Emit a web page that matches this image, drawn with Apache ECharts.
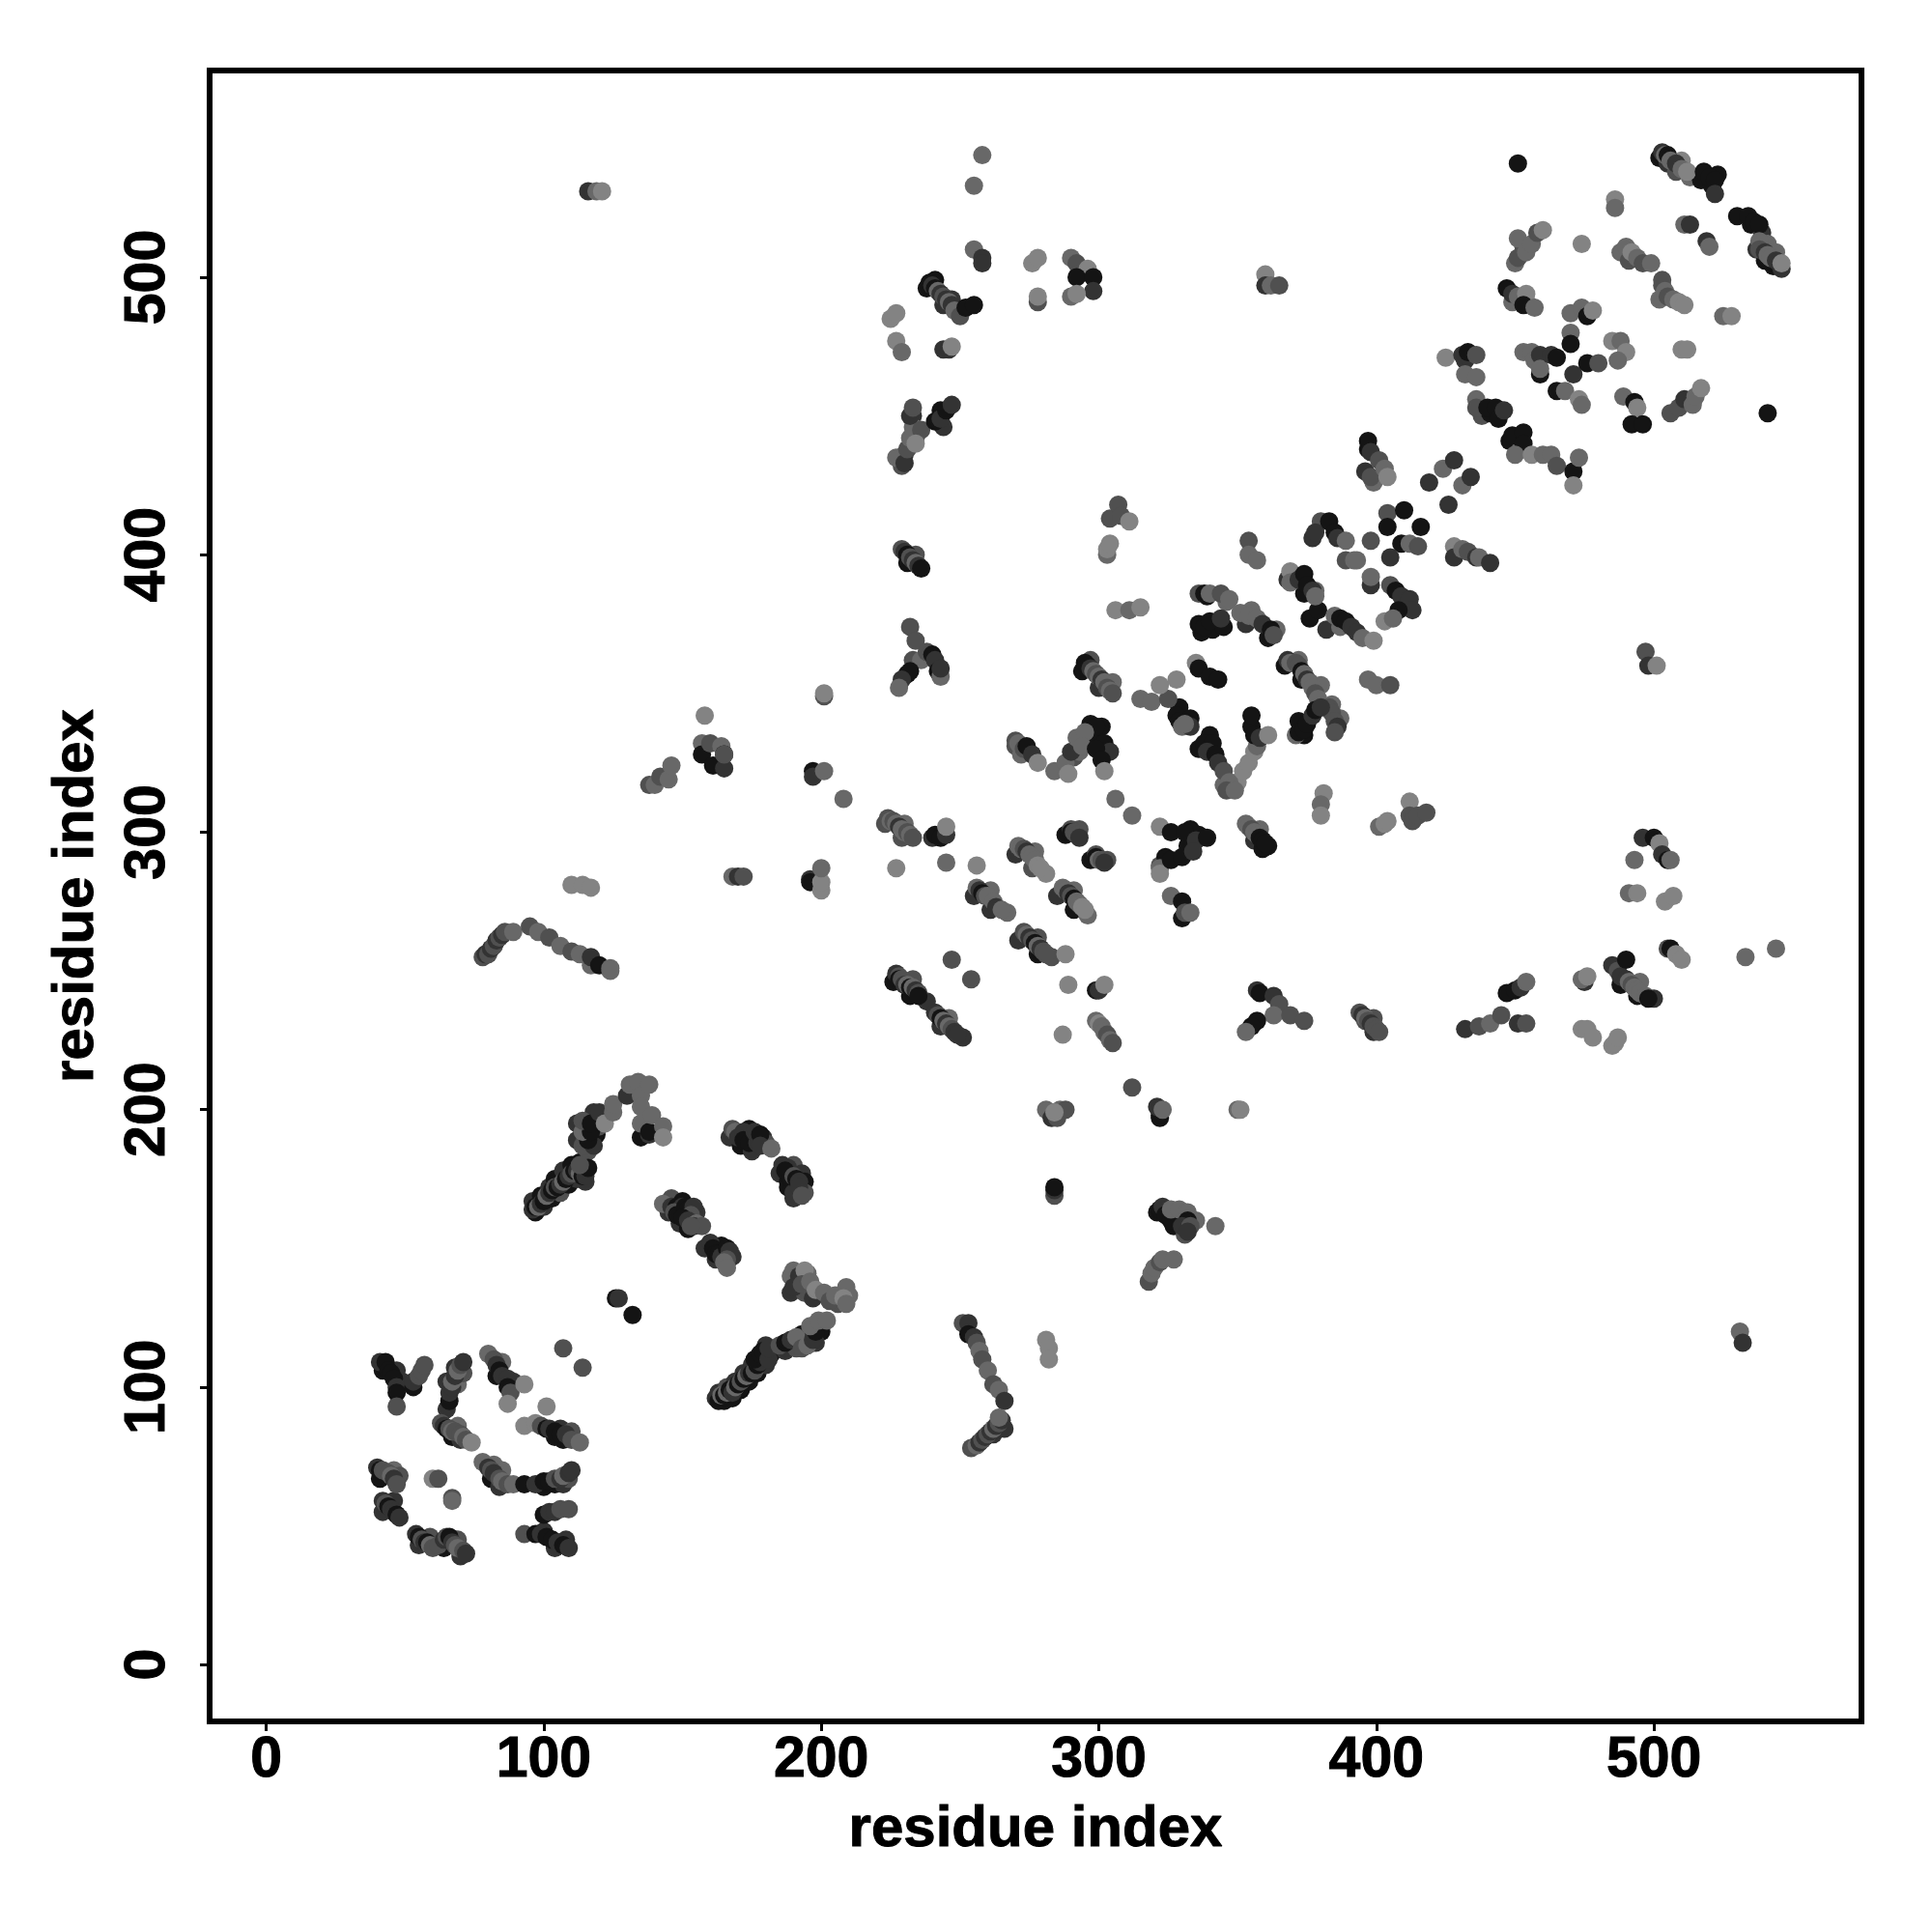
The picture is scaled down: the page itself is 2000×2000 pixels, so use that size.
<!DOCTYPE html>
<html><head><meta charset="utf-8">
<script src="https://cdn.jsdelivr.net/npm/echarts@6/dist/echarts.min.js"></script>
<style>html,body{margin:0;background:#fff}#c{width:2000px;height:2000px}</style></head>
<body><div id="c"></div>
<script>
const tickLabels=[0,100,200,300,400,500];
const shades=['#141414','#333333','#505050','#686868','#838383'];
// each contact: [residue i, residue j, shade index]
const denseUnderlay=[[163,98,1],[165,95,0],[166,100,2],[168,96,0],[169,102,1],[171,99,0],[172,105,1],[174,102,0],[175,108,1],[177,105,0],[178,112,2],[180,108,1],[180,115,1],[182,112,0],
[97,163,0],[96,167,1],[100,165,1],[99,169,0],[103,168,0],[102,172,1],[106,170,2],[104,175,0],[109,173,0],[107,178,1],[112,175,1],[110,180,0],[115,174,1],[113,181,0],
[112,189,1],[119,191,0],[116,185,2],[112,195,1],[120,194,2],[118,199,1],
[146,168,2],[150,167,0],[155,163,1],[145,163,1],[149,159,1],[152,157,0],[158,150,1],[162,146,1],[164,151,0],[168,147,1],
[167,190,1],[171,187,0],[175,185,1],[174,193,0],[179,190,1],[180,188,2],[185,177,1],[188,174,0],[190,168,1],[190,180,2],[193,177,1],[194,174,0],[194,170,2],
[189,140,3],[189,134,1],[194,134,2],[195,141,3],[197,132,1],[206,130,2],[210,133,3],[187,113,1],[191,114,2],[195,118,1],[193,119,0],[200,120,0],[198,116,1],
[42,106,0],[47,106,1],[49,102,1],[65,102,1],[69,101,3],[71,105,2],[68,107,1],[67,82,0],[70,81,1],[69,86,3],
[83,104,0],[85,109,3],[89,102,1],[104,82,0],[107,81,0],[106,85,1],[110,84,2],
[41,67,0],[46,70,3],[48,68,2],[42,55,1],[46,59,1],
[55,43,1],[59,46,2],[64,42,0],[69,45,2],[70,39,1],
[81,67,0],[84,64,1],[82,72,3],[85,70,3],[100,64,0],[104,65,0],[107,65,1],[109,67,2],
[104,42,1],[100,48,1],[108,45,1],
[226,246,0],[232,241,0],[233,247,2],[238,239,1],[243,230,1],[246,233,3],[251,226,1],
[223,303,2],[229,298,2],[230,303,3],[255,277,1],[261,272,1],[261,279,3],[267,271,3],
[270,292,1],[276,287,2],[277,293,3],[281,285,4],[285,277,1],[291,272,0],[291,279,3],[296,270,3],
[271,261,1],[278,256,0],[278,262,2],[283,255,2],[288,299,0],[293,301,2],[297,290,0],[303,290,2],
[294,358,0],[300,352,1],[297,362,2],[305,354,3],[231,397,0],[234,400,2],
[238,496,0],[244,490,1],[241,499,0],[247,492,1],[230,436,1],[229,432,2],[233,450,1],[234,442,2],[244,446,1],[243,452,0],
[356,297,1],[359,294,0],[358,301,3],[361,295,0],[367,360,0],[373,355,0],[379,345,2],[372,362,3],[380,353,3],[384,346,3],[387,341,3],
[337,372,0],[341,373,0],[345,374,0],[353,375,1],[361,370,0],[339,385,0],[346,383,3],[355,380,3],[364,373,3],
[368,391,1],[374,386,0],[378,387,3],[376,377,0],[382,373,1],[379,380,0],[387,374,3],
[396,232,2],[399,228,1],[399,233,2],[485,252,1],[488,245,0],[494,241,0],[495,246,3],[500,240,1],
[502,543,0],[505,541,1],[508,538,2],[510,542,4],[513,536,3],[517,535,0],[521,533,0],[523,537,0],[535,519,0],[539,516,1],[537,510,1],[540,506,0],[543,504,0],[546,503,1],[541,512,3],[544,509,3],
[503,497,2],[502,492,3],[488,509,3],[491,506,2],[397,438,0],[396,430,1],[399,426,3],
[432,470,1],[438,450,2],[441,451,0],[448,441,0],[451,441,0],[452,438,3],[449,491,3],[455,490,4],[450,505,3],[453,511,2],
[291,327,2],[293,329,3],[298,335,0],[301,338,0],[302,332,0],[304,329,1],[270,331,2],[272,328,3],
[329,345,0],[336,330,0],[340,335,0],[345,317,3],[350,318,4],[372,340,0],[374,335,0],
[322,288,2],[324,291,0],[332,295,0],[336,299,0],[333,301,0],[330,269,0],
[321,163,0],[327,158,0],[335,160,3],[331,155,2],[254,78,2],[262,83,1],[266,85,1]];
const lowerBlock=[[41,109,1],[43,109,0],[44,106,0],[45,105,0],[46,103,0],[47,100,1],[47,98,0],[47,93,2],[53,100,0],[53,102,1],[55,104,2],[56,106,2],[57,108,2],
[65,92,1],[66,95,0],[66,98,1],[67,100,1],[67,102,3],[68,104,1],[69,106,3],[70,108,2],[71,109,1],[63,87,2],[64,86,1],[65,85,0],[66,85,2],[67,84,3],[68,84,2],[70,83,2],[71,82,3],[72,81,2],[74,80,4],
[80,112,3],[82,110,2],[83,108,1],[84,106,0],[85,104,1],[87,103,1],[87,100,0],[88,98,2],[87,94,4],[93,101,4],[101,93,4],[107,114,2],[114,107,2],
[93,86,4],[97,87,4],[99,86,2],[101,85,0],[102,85,1],[104,84,0],[106,83,0],[108,83,1],[110,81,2],[113,80,3],
[40,71,1],[41,70,0],[42,70,2],[44,69,2],[45,68,3],[46,67,1],[47,65,2],[42,59,1],[43,58,2],[44,57,0],[45,56,1],[46,55,1],[47,54,0],[48,53,1],[60,67,4],[62,67,2],[67,60,2],[67,59,3],
[54,47,1],[55,46,0],[56,45,2],[57,44,1],[58,44,0],[59,43,3],[60,42,2],[62,43,2],[64,45,1],[65,46,2],[66,46,0],[67,44,1],[68,43,2],[69,42,3],[71,41,2],[72,40,1],
[78,73,3],[80,71,1],[81,70,2],[82,69,1],[84,67,2],[85,66,3],[87,65,2],[89,65,3],[93,65,0],[97,65,1],[100,66,0],[102,66,0],[104,67,2],[106,67,1],[107,68,3],[109,69,1],[110,70,1],
[100,54,0],[102,55,1],[104,55,1],[106,56,2],[109,56,2],[93,47,2],[97,47,0],[99,47,1],[101,46,0],[103,45,0],[105,44,1],[107,43,0],[109,42,1]];
const strandBlock=[[96,164,1],[97,165,0],[98,165,3],[99,166,1],[100,167,0],[101,169,3],[102,170,1],[103,171,0],[104,172,2],[105,172,0],[106,173,1],[107,174,3],[108,175,0],[109,176,1],[110,177,2],[111,178,0],[112,178,1],[113,177,3],[114,176,0],[115,176,1],[116,179,0],[113,180,2],
[114,187,2],[118,187,1],[116,189,0],[114,192,3],[117,192,0],[114,196,2],[117,195,0],[120,199,1],[122,195,4],[125,199,3],[125,202,3],[130,205,1],[131,209,3],[134,210,3],[135,205,3],[135,201,3],[138,209,3],
[135,190,0],[138,191,1],[135,195,3],[138,192,0],[139,198,3],[143,194,3],[143,190,4],
[126,132,0],[127,132,1],[132,126,0],
[143,166,3],[146,165,1],[148,165,0],[150,165,1],[147,163,2],[148,162,0],[151,165,0],[152,164,0],[154,165,1],[153,162,2],[150,161,0],[152,160,1],[155,159,3],[154,158,1],[157,158,2],[153,158,2],
[160,152,1],[161,150,0],[162,148,0],[163,148,0],[164,147,1],[166,150,0],[167,149,1],[166,146,2],[165,145,3],[166,143,3],
[168,193,2],[169,192,3],[170,190,1],[172,192,1],[172,189,0],[174,188,0],[176,190,0],[177,188,1],[176,192,1],[178,191,0],[178,187,1],[182,186,3],
[186,180,1],[188,179,1],[187,178,0],[188,172,0],[189,175,0],[190,176,2],[190,170,1],[191,175,0],[192,174,1],[192,172,1],[193,169,2],
[190,142,3],[192,140,1],[190,136,1],[194,142,4],[193,137,2],[196,138,3],[198,135,4],[201,134,3],[203,131,2],[205,133,3],[209,136,3],[208,132,4],[209,130,3],
[162,96,1],[163,95,0],[164,97,3],[165,97,0],[166,98,3],[167,99,0],[168,98,1],[169,100,3],[170,101,0],[171,102,2],[172,103,0],[173,104,3],[174,105,1],[175,105,0],[176,106,2],[177,108,0],[178,109,1],[176,110,0],[178,112,0],[179,113,0],[181,110,1],[181,114,1],
[185,115,2],[187,116,0],[189,117,1],[191,118,3],[193,114,2],[195,115,3],[197,117,1],[198,120,0],[196,122,3],[199,124,3],[202,124,3],
[78,255,2],[79,256,1],[80,256,2],[81,258,1],[82,259,2],[83,261,1],[84,262,2],[85,263,1],[86,264,2],[89,264,3],[95,266,2],[98,264,3],[102,262,2],[106,259,3],[110,257,2],[113,256,3],[117,252,3],[117,255,1],[120,252,0],[124,250,3],[124,251,3],
[110,281,4],[114,281,4],[117,280,4],[168,284,3],[170,284,1],[172,284,2],
[138,317,2],[140,317,3],[142,320,2],[145,319,3],[146,324,3],[157,332,3],[157,328,0],[160,332,2],[161,324,0],[164,331,3],[165,328,0],[165,323,1],[165,328,2],[158,342,4],
[197,322,0],[197,320,1],[201,322,3],[201,349,2],[201,350,4],[208,312,3],[196,283,1],[196,282,0],[200,279,4],[200,282,4],[200,287,3]];
const centralBlock=[[251,123,2],[253,123,1],[253,119,0],[255,118,1],[256,116,2],[257,113,3],[258,110,2],[260,106,3],[262,101,2],[264,99,3],[266,95,1],
[256,79,3],[257,80,1],[258,81,2],[259,82,1],[260,83,2],[261,84,1],[262,85,3],[263,86,1],[264,87,2],[265,88,1],[264,89,3],
[281,117,4],[282,114,4],[282,110,4],[318,138,2],[319,141,3],[320,143,3],[322,145,2],[323,146,3],[327,146,3],
[322,164,0],[323,165,1],[324,162,0],[326,160,0],[326,164,3],[329,164,3],[332,163,3],[332,160,0],[330,158,1],[333,158,2],[332,156,1],[342,158,3],
[284,169,2],[284,171,1],[284,172,0],[281,200,3],[283,197,1],[285,197,2],[286,200,3],[288,200,2],[284,199,4],[322,197,0],[322,198,0],[321,201,1],[323,200,3],[350,200,3],[351,200,4],[312,208,2],[287,227,4],[289,245,4],[288,256,4],
[227,249,1],[228,248,2],[228,247,0],[229,247,2],[230,245,1],[231,245,3],[232,244,0],[233,244,3],[234,243,1],[235,242,2],[235,241,0],
[241,235,1],[242,234,2],[243,233,0],[244,232,3],[245,231,1],[246,230,3],[247,229,2],[248,228,1],[249,227,1],
[247,254,2],[254,247,2],[256,288,4],[245,289,3],[227,287,4],
[224,305,2],[225,304,3],[226,304,2],[227,303,3],[228,302,1],[229,301,3],[230,300,3],[231,300,2],[232,299,3],[233,298,2],[240,298,1],[241,299,0],[243,298,0],[245,299,1],[245,302,4],
[256,280,3],[257,279,1],[258,278,0],[259,277,2],[260,277,3],[262,275,3],[263,273,1],[265,272,3],
[271,295,3],[272,294,3],[273,294,2],[274,293,1],[275,292,3],[276,291,3],[277,290,3],[278,288,4],[279,287,4],
[287,280,3],[288,279,3],[289,278,1],[290,277,2],[291,276,0],[292,275,3],[293,274,3],[294,273,4],[295,272,4],
[273,264,2],[274,263,3],[275,262,1],[276,261,2],[277,260,0],[278,259,3],[279,258,1],[280,257,2],[281,256,2],
[290,301,2],[290,300,0],[291,300,2],[292,299,2],[293,298,1],[299,292,2],[299,291,0],[300,290,3],[301,290,2],[302,289,1],
[299,243,0],[300,243,1],[302,245,4],[299,232,3],[300,231,4],[301,230,3],[302,228,3],[303,227,2],[304,225,3],[305,224,2],
[270,333,2],[271,332,3],[273,330,2],[274,331,0],[276,328,1],[278,325,4],
[284,322,3],[288,325,3],[289,321,4],[290,329,1],[292,334,3],[297,339,0],[299,338,0],[295,336,3],[294,331,3],[299,330,0],[301,326,0],[302,322,4],[306,312,3],[312,306,3],
[295,361,0],[296,360,0],[297,359,1],[298,358,3],[299,357,2],[300,356,3],[301,355,1],[302,354,3],[303,352,2],[304,351,3],[305,350,2],
[232,374,2],[234,369,2],[233,362,2],[236,362,3],[238,365,2],[240,364,0],[241,362,1],[242,358,0],[243,356,3],[243,359,1],[231,357,0],[232,358,0],[229,355,1],[228,352,3],
[229,402,2],[230,401,1],[231,400,0],[232,399,2],[233,398,1],[234,397,3],[235,396,1],[236,395,0],
[227,435,3],[230,433,1],[231,438,2],[232,442,3],[233,446,3],[232,450,1],[233,453,2],[236,445,2],[234,440,4],[241,448,0],[243,449,1],[245,452,0],[247,454,1],
[225,485,4],[227,487,4],[227,477,4],[229,473,3],[244,474,1],[246,474,1],[247,475,4],[239,498,0],[240,497,1],[241,496,0],[242,495,3],[243,494,1],[244,493,2],[245,492,1],[246,491,3],[247,490,1],[248,488,3],[250,486,2],[252,489,0],[255,490,0],
[255,533,3],[258,544,3],[255,510,3],[258,507,1],[258,505,1],[276,505,4],[278,507,4],[278,491,2],[278,493,4],[290,507,3],[292,505,2],[296,503,4],[292,500,0],[298,500,0],[298,495,1],[290,493,3],[292,494,4],
[116,531,1],[119,531,3],[121,531,4],[360,501,4],[360,497,1],[362,497,3],[365,497,2]];
const rightBlock=[[315,348,3],[319,347,3],[325,348,2],[322,353,4],[328,355,4],[335,361,4],[336,359,0],[340,356,0],[343,355,0],
[328,342,0],[329,340,0],[330,338,3],[333,341,0],[333,338,1],[331,339,3],[338,332,0],[341,332,0],[339,329,1],[342,328,0],[343,325,1],[345,322,2],[347,318,3],[346,315,2],[349,315,3],[352,322,4],[354,325,4],[356,329,4],[357,331,3],[355,338,0],[356,335,0],[358,334,1],[355,342,0],[361,335,4],
[368,362,1],[369,361,3],[371,361,2],[372,360,2],[373,358,0],[374,357,3],[375,355,1],[376,354,3],[377,352,3],[378,350,2],[379,348,3],[381,345,3],[383,345,2],[384,343,2],[385,340,2],[386,338,1],[385,336,2],
[371,335,3],[372,336,0],[374,337,0],[375,339,0],[377,342,1],[378,344,0],[380,345,1],[397,355,3],[400,353,3],[405,353,2],
[322,302,4],[326,300,0],[331,300,0],[335,297,1],[339,298,0],[322,287,3],[322,285,4],[326,290,0],[330,291,0],[334,293,1],[326,277,3],[330,275,0],[331,271,2],[333,271,3],
[353,303,3],[354,302,3],[355,301,2],[356,300,3],[357,299,3],[358,298,0],[359,297,0],[360,296,0],
[381,314,4],[380,310,3],[380,306,4],[401,302,3],[403,303,4],[404,304,4],[412,311,4],[412,306,2],[413,304,2],[415,306,2],[418,307,2],
[357,243,1],[358,242,0],[363,241,1],[365,238,2],[363,234,3],[369,234,2],[374,232,2],[357,232,0],[355,230,0],[353,228,3],
[394,235,2],[395,234,1],[396,233,3],[397,232,2],[398,231,1],[399,230,2],[400,229,2],[401,228,2],
[432,229,1],[437,230,2],[441,231,3],[445,234,2],[451,231,1],[454,231,2],[447,242,0],[450,243,0],[452,244,1],[454,246,3],
[475,246,1],[474,247,3],[476,248,4],[474,229,4],[476,229,4],[478,226,4],[485,223,4],[486,224,4],[487,226,4],
[487,250,2],[488,248,1],[490,254,0],[490,247,1],[491,246,3],[492,245,2],[493,244,3],[494,243,3],[495,242,3],[497,241,3],[498,240,0],
[505,258,2],[506,258,0],[508,256,4],[510,254,4],[533,255,3],[544,258,3],[531,120,3],[532,116,1],
[496,298,1],[500,298,0],[502,296,4],[503,292,1],[505,290,0],[506,290,3],[493,290,3],[491,278,3],[494,278,4],[504,275,4],[507,277,4],[497,365,2],[498,360,1],[501,360,4],
[306,380,4],[311,380,3],[315,381,4],[303,400,3],[303,402,4],[304,404,4],[304,413,2],[307,418,2],[308,414,2],[311,412,4],
[354,405,2],[354,400,3],[357,398,3],
[336,386,2],[338,386,0],[340,386,3],[344,386,2],[347,384,3],[336,375,0],[338,374,0],[340,376,0],[344,377,1],[351,379,3],[354,378,3],[357,377,3],[359,375,1],[362,373,0],[363,371,2],
[369,394,4],[369,390,3],[372,391,1],[374,393,0],[375,389,0],[377,387,1],[378,385,3],
[377,406,1],[380,412,2],[378,408,1],[383,412,0],[385,408,0],[386,406,1],[389,405,3],[389,398,2],[392,398,3],
[385,378,3],[387,377,0],[389,376,0],[391,374,1],[393,372,1],[395,370,3],[399,369,4]];
const topBlock=[[397,441,0],[398,437,1],[398,428,2],[401,434,2],[403,431,3],[404,428,4],[419,426,1],[424,431,3],[428,434,1],[431,425,3],[434,428,1],[426,418,1],
[404,415,2],[410,416,0],[404,410,0],[416,410,0],[398,405,2],[409,404,0],[412,404,3],[415,403,2],[393,398,3],[405,399,1],[398,389,1],[398,392,3],[405,389,2],[407,387,0],[409,385,1],[412,384,1],[413,380,1],[408,380,0],[403,376,4],[406,377,3],
[428,403,4],[428,399,1],[431,402,3],[433,401,2],[436,399,1],[437,399,3],[441,397,1],
[425,471,4],[431,472,1],[433,473,0],[436,472,2],[432,465,3],[436,464,3],[436,456,3],[436,453,2],[440,453,0],[443,453,0],[444,449,0],[446,452,1],[449,443,0],[453,444,0],[453,440,0],[450,436,3],[456,436,4],[460,436,3],[463,436,3],[465,432,2],[471,430,0],[473,435,3],[471,425,4],
[447,496,0],[449,494,1],[451,493,3],[454,494,4],[453,490,0],[457,489,3],
[451,514,3],[451,507,2],[454,509,3],[456,512,3],[458,516,2],[460,517,4],[474,512,4],[451,541,0],
[453,473,3],[456,473,3],[457,470,3],[459,472,1],[459,465,0],[459,467,3],[463,472,1],[465,471,0],[465,459,0],[468,459,3],[471,465,1],[476,469,0],[480,469,2],
[470,487,3],[474,489,3],[476,486,0],[478,488,4],[470,480,3],[470,476,0],[473,456,4],[474,454,3],
[485,477,4],[488,477,3],[490,473,4],[487,470,3],[489,457,3],[493,455,0],[494,453,4],[492,447,0],[496,447,0],
[506,451,2],[509,453,2],[511,456,1],[514,454,3],[515,457,3],[517,460,4],[541,451,0],
[486,528,4],[486,525,3],[490,511,3],[492,509,4],[494,507,3],[496,505,2],[499,505,3],[503,499,2],[504,495,3],[505,493,2],[507,492,3],[509,491,4],[511,490,4],[510,474,4],[512,474,4],[525,486,3],[528,486,4],
[503,545,1],[504,544,3],[505,544,0],[506,542,3],[508,541,1],[510,539,3],[512,538,4],[518,538,0],[520,536,0],[522,535,0],[522,530,1],[511,519,3],[513,519,1],[519,513,1],[520,511,3],
[530,522,0],[534,522,0],[536,520,0],[538,519,0],[538,513,3],[538,510,2],[540,509,1],[541,508,3],[542,507,3],[544,506,1],[546,505,4]];
const contacts=[].concat(denseUnderlay,lowerBlock,strandBlock,centralBlock,rightBlock,topBlock);
const font='"Liberation Sans", Arial, sans-serif';
const chart=echarts.init(document.getElementById('c'),null,{renderer:'canvas'});
const axis=(min,max,rot,gap,margin)=>({type:'value',min,max,name:'residue index',nameLocation:'middle',nameGap:gap,nameRotate:rot,
 nameTextStyle:{fontFamily:font,fontWeight:'bold',fontSize:60,color:'#000',textBorderColor:'#000',textBorderWidth:1},
 axisLine:{show:false,onZero:false},splitLine:{show:false},
 axisTick:{show:true,length:10,lineStyle:{color:'#000',width:3},customValues:tickLabels},
 axisLabel:{show:true,rotate:rot,margin,fontFamily:font,fontWeight:'bold',fontSize:59,color:'#000',textBorderColor:'#000',textBorderWidth:1,customValues:tickLabels}});
chart.setOption({animation:false,backgroundColor:'#fff',
 grid:{left:217,top:73,width:1710,height:1709,show:true,borderColor:'#000',borderWidth:6,backgroundColor:'#fff'},
 xAxis:axis(-20.4,574.8,0,82,11),yAxis:axis(-20.5,574.5,90,108,34),
 series:[{type:'scatter',symbolSize:19,silent:true,large:false,
  data:contacts.map(p=>({value:[p[0],p[1]],itemStyle:{color:shades[p[2]],opacity:1}}))}]});
</script></body></html>
